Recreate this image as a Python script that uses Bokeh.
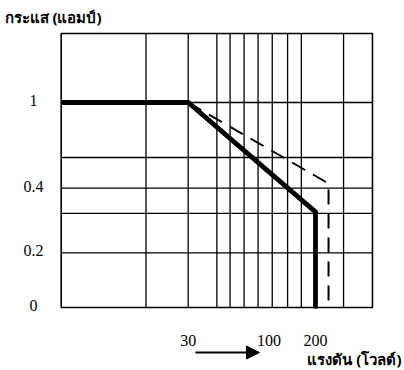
from bokeh.plotting import figure
from bokeh.models import (LabelSet, Label, Arrow, NormalHead,
                          ColumnDataSource, Range1d)
from bokeh.embed import file_html
from bokeh.resources import INLINE

# ---- data ----
v_min, v_max = 4.52, 467.7           # voltage extent of the chart box
i_min, i_max = 0.1113, 2.094         # current extent of the chart box
voltage_ticks = [30, 100, 200]
voltage_tick_labels = ["30", "100", "200"]
voltage_grid = [16, 30, 46, 56, 69, 85, 105, 132, 162, 304]
current_ticks = [0.1113, 0.2, 0.4, 1]        # bottom edge is labelled "0"
current_tick_labels = ["0", "0.2", "0.4", "1"]
current_grid = [0.2, 0.305, 0.4, 0.555, 1]

solid_v = [4.52, 30, 200, 200]
solid_i = [1, 1, 0.31, 0.11]
dashed_v = [30, 243, 243]
dashed_i = [1, 0.42, 0.117]

title_text = "กระแส (แอมป์)"
xlabel_text = "แรงดัน (โวลต์)"

W, H = 404, 370
# the plotting frame covers the whole canvas so that every text can be drawn
p = figure(width=W, height=H, x_axis_type="log", y_axis_type="log",
           x_range=Range1d(1.829, 753.9), y_range=Range1d(0.0567, 2.982),
           output_backend="svg", toolbar_location=None,
           min_border=0)
p.axis.visible = False
p.grid.visible = False
p.outline_line_color = None
p.background_fill_color = "white"
p.border_fill_color = "white"

# grid lines inside the chart box
p.segment(x0=voltage_grid, y0=[i_min] * len(voltage_grid),
          x1=voltage_grid, y1=[i_max] * len(voltage_grid),
          line_color="black", line_width=1.3)
p.segment(x0=[v_min] * len(current_grid), y0=current_grid,
          x1=[v_max] * len(current_grid), y1=current_grid,
          line_color="black", line_width=1.3)
# chart box
p.quad(left=[v_min], right=[v_max], bottom=[i_min], top=[i_max],
       fill_color=None, line_color="black", line_width=1.6)

# curves
p.line(solid_v, solid_i, line_color="black", line_width=4.8, line_join="miter")
p.line(dashed_v, dashed_i, line_color="black", line_width=2, line_dash="15 9")

# y tick labels
ysrc = ColumnDataSource(dict(y=current_ticks, text=current_tick_labels))
p.add_layout(LabelSet(x=33, y="y", text="text", source=ysrc, x_units="screen",
                      text_align="center", text_baseline="middle", y_offset=2,
                      text_font="Liberation Serif", text_font_size="16px",
                      text_color="black"))
# x tick labels
xsrc = ColumnDataSource(dict(x=voltage_ticks, text=voltage_tick_labels))
p.add_layout(LabelSet(x="x", y=30, text="text", source=xsrc, y_units="screen",
                      text_align="center", text_baseline="middle",
                      text_font="Liberation Serif", text_font_size="16px",
                      text_color="black"))

# title and axis caption
p.add_layout(Label(x=4, y=354, x_units="screen", y_units="screen",
                   text=title_text, text_font="Noto Sans", text_font_style="bold",
                   text_font_size="15px", text_baseline="middle", text_color="black"))
p.add_layout(Label(x=401, y=12, x_units="screen", y_units="screen",
                   text=xlabel_text, text_font="Noto Sans", text_font_style="bold",
                   text_font_size="15px", text_baseline="middle", text_align="right",
                   text_color="black"))

# arrow
p.add_layout(Arrow(x_start=195, y_start=18, x_end=259, y_end=18,
                   start_units="screen", end_units="screen",
                   line_color="black", line_width=2,
                   end=NormalHead(size=13, fill_color="black", line_color="black")))

open("out.html", "w").write(file_html(p, INLINE))
